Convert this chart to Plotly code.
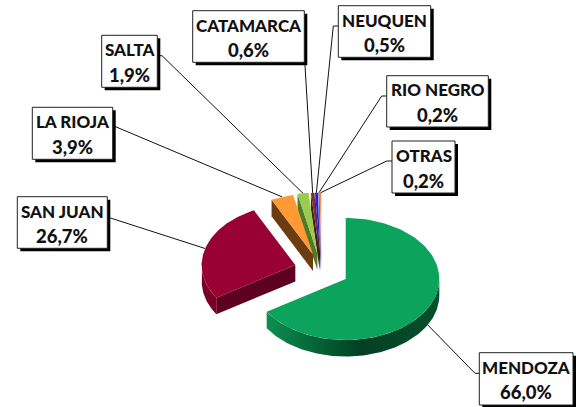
import numpy as np
import plotly.graph_objects as go

# ---- data
provinces = ["MENDOZA", "SAN JUAN", "LA RIOJA", "SALTA", "CATAMARCA", "NEUQUEN", "RIO NEGRO", "OTRAS"]
shares = [66.0, 26.7, 3.9, 1.9, 0.6, 0.5, 0.2, 0.2]
share_labels = ["66,0%", "26,7%", "3,9%", "1,9%", "0,6%", "0,5%", "0,2%", "0,2%"]

# ---- styling
top_colors = ["#0ca35c", "#990033", "#ff9933", "#99cc4d", "#7d3028", "#1f1fe6", "#5a3fa0", "#f47a30"]
cut_colors = ["#06683a", "#5e001f", "#6b3c10", "#4f7a2a", "#4a1c18", "#12127f", "#352560", "#8f4a1c"]
wall_color = "#7a0028"

# ---- pseudo-3D projection of the pie (pixel-based axes)
CX, CY, RX, RY, DEPTH = 345.7, 279.0, 93.6, 61.0, 16.5
EXPLODE = [(0, 0), (-50.4, -14), (-32.7, -24.5), (-28.3, -25.4),
           (-26.0, -25.3), (-25.5, -25.3), (-25.0, -25.3), (-24.5, -25.3)]

# ---- label layout: box x0, y0, x1, y1, then the elbow of its leader line
BOXES = [(479.3, 352.7, 573.0, 405.0, (475.0, 373.3), (479.3, 373.3)),
         (17.3, 196.7, 107.3, 248.3, (111.0, 218.0), (107.3, 217.0)),
         (32.3, 107.3, 112.7, 159.3, (116.0, 126.7), (112.7, 125.5)),
         (101.7, 35.3, 157.3, 87.3, (162.0, 55.7), (157.3, 55.7)),
         (192.7, 10.7, 304.3, 62.3, (304.8, 62.3), (304.8, 62.3)),
         (338.3, 5.7, 430.7, 57.3, (333.3, 26.0), (338.3, 26.0)),
         (386.7, 75.7, 488.3, 127.0, (381.7, 96.0), (386.7, 96.0)),
         (392.0, 141.0, 455.0, 193.0, (386.7, 161.0), (392.0, 161.0))]

cum = np.cumsum([0] + shares)
cum = cum / cum[-1] * 360.0


def rim(t, dx, dy, drop=0.0):
    r = np.radians(t)
    return CX + dx + RX * np.sin(r), CY + dy - RY * np.cos(r) + drop


fig = go.Figure()


def poly(xs, ys, color=None, gradient=None):
    fig.add_trace(go.Scatter(x=xs, y=ys, mode="lines", fill="toself", line=dict(width=0),
                             fillcolor=color, fillgradient=gradient, hoverinfo="skip", showlegend=False))


def cut_face(t, dx, dy, color):
    ex, ey = rim(t, dx, dy)
    ax, ay = CX + dx, CY + dy
    poly([ax, ex, ex, ax], [ay, ey, ey + DEPTH, ay + DEPTH], color)


# far / small slices first, Mendoza last
for i in range(len(shares) - 1, -1, -1):
    t0, t1 = cum[i], cum[i + 1]
    dx, dy = EXPLODE[i]
    ts = np.linspace(t0, t1, 120)
    if i == 0:
        wt = np.linspace(90, t1, 120)
        xa, ya = rim(wt, dx, dy)
        xb, yb = rim(wt[::-1], dx, dy, DEPTH)
        poly(np.r_[xa, xb], np.r_[ya, yb], gradient=dict(
            type="horizontal", start=CX - 80, stop=CX + 94,
            colorscale=[[0, "#0d9152"], [0.12, "#0a7d47"], [0.35, "#055a32"], [0.55, "#043f24"], [1, "#05502c"]]))
    elif i == 1:
        cut_face(t0, dx, dy, cut_colors[i])
        wt = np.linspace(t0, 275, 60)
        xa, ya = rim(wt, dx, dy)
        xb, yb = rim(wt[::-1], dx, dy, DEPTH)
        poly(np.r_[xa, xb], np.r_[ya, yb], wall_color)
    else:
        cut_face(t0, dx, dy, cut_colors[i])
    xs, ys = rim(ts, dx, dy)
    poly(np.r_[CX + dx, xs], np.r_[CY + dy, ys], top_colors[i])

# leader lines, from the middle of each slice's rim to the label box
for i, box in enumerate(BOXES):
    mid = (cum[i] + cum[i + 1]) / 2
    dx, dy = EXPLODE[i]
    ex, ey = rim(mid, dx, dy, DEPTH if i == 0 else 0)
    fig.add_trace(go.Scatter(x=[ex, box[4][0], box[5][0]], y=[ey, box[4][1], box[5][1]], mode="lines",
                             line=dict(color="#111111", width=1), hoverinfo="skip", showlegend=False))

shapes, notes = [], []
name_font = dict(family="Lato", size=17, color="#111111", weight=900)
pct_font = dict(family="Lato", size=18.5, color="#111111", weight=900)
for i, (x0, y0, x1, y1, _, _) in enumerate(BOXES):
    shapes.append(dict(type="rect", x0=x0 + 3, y0=y0 + 3, x1=x1 + 3, y1=y1 + 3, layer="above",
                       fillcolor="#000000", line=dict(width=0)))
    shapes.append(dict(type="rect", x0=x0, y0=y0, x1=x1, y1=y1, layer="above",
                       fillcolor="#ffffff", line=dict(color="#222222", width=1)))
    xm, ym = (x0 + x1) / 2, (y0 + y1) / 2
    notes.append(dict(x=xm, y=ym - 11.5, xref="x", yref="y", showarrow=False,
                      text=provinces[i], font=name_font))
    notes.append(dict(x=xm, y=ym + 13.5, xref="x", yref="y", showarrow=False,
                      text=share_labels[i], font=pct_font))

fig.update_layout(width=576, height=407, margin=dict(l=0, r=0, t=0, b=0),
                  paper_bgcolor="white", plot_bgcolor="white", showlegend=False,
                  xaxis=dict(range=[0, 576], visible=False, fixedrange=True),
                  yaxis=dict(range=[407, 0], visible=False, fixedrange=True),
                  shapes=shapes, annotations=notes)
fig.write_html("out.html", config=dict(displayModeBar=False), default_width="576px", default_height="407px",
               post_script="document.body.style.margin='0';document.body.style.overflow='hidden';")
